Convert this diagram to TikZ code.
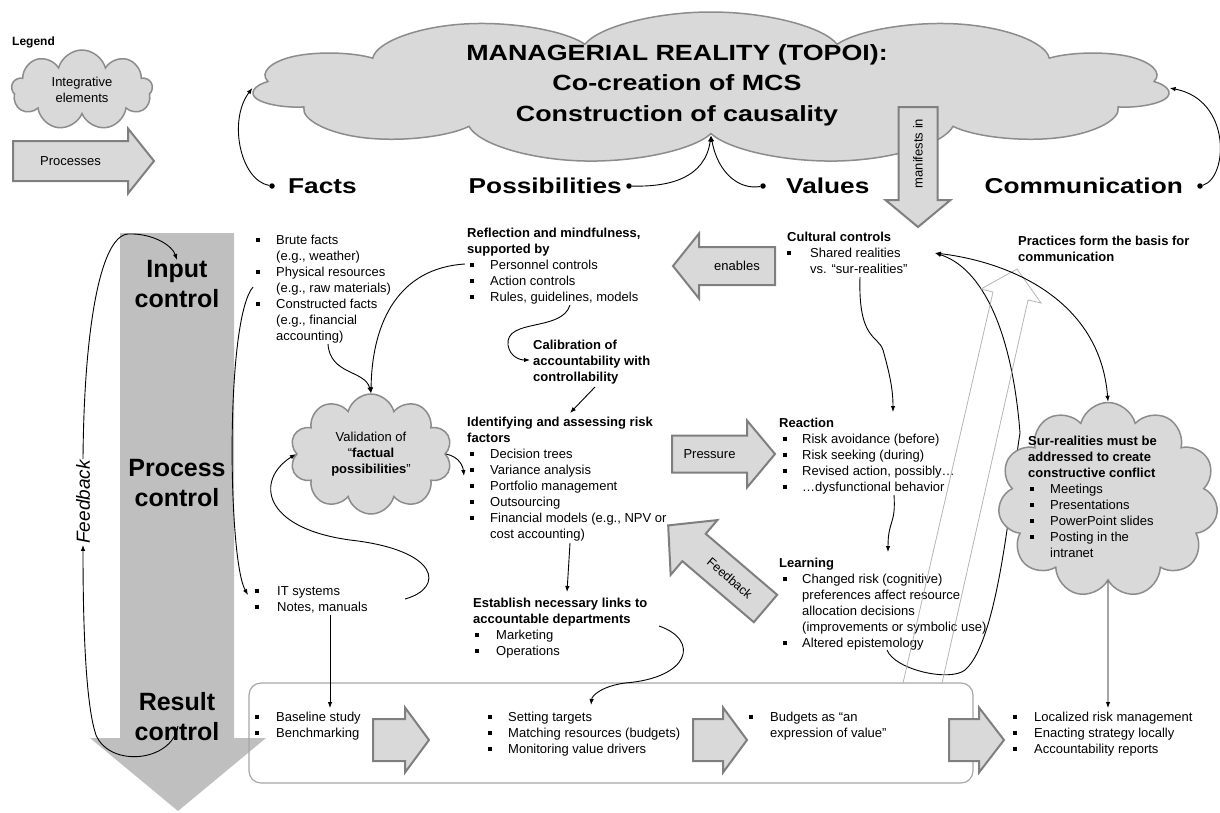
\documentclass[tikz,border=0pt]{standalone}
\usepackage{fontspec}
\setmainfont{Liberation Sans}
\newfontfamily\widefont{Liberation Sans}[FakeStretch=1.22]
\usetikzlibrary{shapes.symbols,arrows.meta,positioning}

\definecolor{cloudfill}{HTML}{D9D9D9}
\definecolor{cloudline}{HTML}{8C8C8C}
\definecolor{barfill}{HTML}{BFBFBF}
\definecolor{arrowline}{HTML}{7F7F7F}
\definecolor{boxline}{HTML}{A6A6A6}
\definecolor{ghost}{HTML}{B4B4B4}

% small square bullet and bullet lists
\newcommand{\sq}{\rule[3pt]{3.6pt}{3.6pt}}
\newcommand{\itm}[1][0pt]{\hspace*{#1}\sq}
\newcommand{\hd}[1]{\multicolumn{2}{@{}l@{}}{\bfseries #1}}
\newcommand{\blist}[2]{\begin{tabular}{@{}p{#1}@{}l@{}}#2\end{tabular}}

% fat block arrow: name, tail, angle, length, body width, head width, head length
\newcommand{\fatarrow}[7]{%
  \begin{scope}[shift={#2}, rotate=#3]
    \draw[procarrow] (0,{-#5/2}) -- ({#4-#7},{-#5/2}) -- ({#4-#7},{-#6/2}) -- (#4,0)
      -- ({#4-#7},{#6/2}) -- ({#4-#7},{#5/2}) -- (0,{#5/2}) -- cycle;
    \coordinate (#1) at ({(#4-#7)/2},0);
  \end{scope}}

\begin{document}
\begin{tikzpicture}[x=1pt, y=-1pt,
  txt/.style={anchor=north west, inner sep=0pt, font=\fontsize{13}{16}\selectfont},
  big/.style={anchor=north, align=center, inner sep=0pt, font=\bfseries\fontsize{25}{30}\selectfont},
  head/.style={inner sep=0pt, font=\widefont\bfseries\fontsize{21.5}{24}\selectfont},
  idea/.style={cloud, cloud ignores aspect, draw=cloudline, fill=cloudfill, line width=1.5pt, inner sep=0pt},
  procarrow/.style={fill=cloudfill, draw=arrowline, line width=2pt},
  dot/.style={circle, fill, inner sep=0pt, minimum size=5.5pt},
  link/.style={-{Latex[length=6pt,width=4.5pt]}, line width=0.9pt},
  dlink/.style={{Latex[length=6pt,width=4.5pt]}-{Latex[length=6pt,width=4.5pt]}, line width=0.9pt},
  ]
\useasboundingbox (0,0) rectangle (1220,812);

% legend
\node[anchor=west, inner sep=0pt, font=\bfseries\fontsize{12}{14}\selectfont] (legend) at (12,42) {Legend};
\node[idea, cloud puffs=9, minimum width=141pt, minimum height=80pt, align=center,
  font=\fontsize{13}{16}\selectfont] (legcloud) at (82,90) {Integrative\\elements};
\fatarrow{legarrow}{(13,161)}{0}{141}{40}{65}{26}
\node[font=\fontsize{13}{16}\selectfont] at (legarrow) {Processes};

% managerial reality (cloud stretched sideways)
\node[idea, cloud puffs=11, minimum width=306pt, minimum height=152pt, xscale=3] (reality) at (711,88) {};
\node[anchor=north, align=center, inner sep=0pt, font=\widefont\bfseries\fontsize{22}{30.5}\selectfont]
  (title) at (677,44) {MANAGERIAL REALITY (TOPOI):\\Co-creation of MCS\\Construction of causality};
\fatarrow{manifest}{(918,107)}{-90}{120}{39}{65}{27}
\node[rotate=90, font=\fontsize{13}{16}\selectfont] at (manifest) {manifests in};

% the four topoi
\node[head, anchor=base west] (facts) at (288,193) {Facts};
\node[head, anchor=base east] (poss) at (622,193) {Possibilities};
\node[head, anchor=base west] (values) at (786,193) {Values};
\node[head, anchor=base east] (comm) at (1183,193) {Communication};
\node[dot] (factsdot) at (272,186) {};
\node[dot] (possdot) at (629,186) {};
\node[dot] (valuesdot) at (763,186) {};
\node[dot] (commdot) at (1200,186) {};
\draw[link] (factsdot) .. controls (240,180) and (228,120) .. (reality.west);
\draw[link] (possdot) .. controls (670,187) and (705,178) .. (reality.south);
\draw[link] (valuesdot) .. controls (740,190) and (718,174) .. (reality.south);
\draw[link] (commdot) .. controls (1228,178) and (1232,100) .. (reality.east);

% control stages
\fill[barfill] (120,233) -- (234,233) -- (234,738) -- (266,738) -- (178,811) -- (90,738) -- (120,738) -- cycle;
\node[big] (inctrl) at (177,260) {Input\\control};
\node[big] (procctrl) at (177,459) {Process\\control};
\node[big] (resctrl) at (177,692) {Result\\control};

\node[rotate=90, inner sep=1pt, font=\itshape\fontsize{19}{22}\selectfont] (fbleft) at (83,502) {Feedback};
\coordinate (resultcurl) at (178,726);
\draw[link] (resultcurl) .. controls (172,762) and (110,768) .. (96,735)
  .. controls (84,700) and (83,600) .. (fbleft.west);
\draw[link] (fbleft.east) .. controls (84,330) and (100,236) .. (128,234)
  .. controls (152,233) and (172,245) .. (inctrl.north);

% facts column
\node[txt] (factlist) at (256,233.5) {\blist{20pt}{\sq & Brute facts\\ & (e.g., weather)\\
  \sq & Physical resources\\ & (e.g., raw materials)\\ \sq & Constructed facts\\
  & (e.g., financial\\ & accounting)}};
\node[txt] (itlist) at (255,584.5) {\blist{22pt}{\sq & IT systems\\ \sq & Notes, manuals}};
\node[idea, cloud puffs=10, minimum width=162pt, minimum height=120pt, align=center,
  font=\fontsize{13}{16}\selectfont] (valid) at (371,454)
  {Validation of\\“\textbf{factual}\\\textbf{possibilities}”};

% possibilities column
\node[txt] (reflect) at (467,226.5) {\blist{23pt}{\hd{Reflection and mindfulness,}\\ \hd{supported by}\\
  \itm[3pt] & Personnel controls\\ \itm[3pt] & Action controls\\ \itm[3pt] & Rules, guidelines, models}};
\node[txt] (calib) at (533,338.5) {\blist{0pt}{\hd{Calibration of}\\ \hd{accountability with}\\ \hd{controllability}}};
\node[txt] (identify) at (467,415.5) {\blist{23pt}{\hd{Identifying and assessing risk}\\ \hd{factors}\\
  \itm[3pt] & Decision trees\\ \itm[3pt] & Variance analysis\\ \itm[3pt] & Portfolio management\\
  \itm[3pt] & Outsourcing\\ \itm[3pt] & Financial models (e.g., NPV or\\ & cost accounting)}};
\node[txt] (establish) at (473,596.5) {\blist{23pt}{\hd{Establish necessary links to}\\ \hd{accountable departments}\\
  \itm[2pt] & Marketing\\ \itm[2pt] & Operations}};

% values column
\node[txt] (cultural) at (787,230.5) {\blist{23pt}{\hd{Cultural controls}\\ \sq & Shared realities\\ & vs. “sur-realities”}};
\node[txt] (reaction) at (779,416.5) {\blist{23pt}{\hd{Reaction}\\
  \itm[4pt] & Risk avoidance (before)\\ \itm[4pt] & Risk seeking (during)\\
  \itm[4pt] & Revised action, possibly…\\ \itm[4pt] & …dysfunctional behavior}};
\node[txt] (learning) at (779,556.5) {\blist{23pt}{\hd{Learning}\\
  \itm[4pt] & Changed risk (cognitive)\\ & preferences affect resource\\ & allocation decisions\\
  & (improvements or symbolic use)\\ \itm[4pt] & Altered epistemology}};

% communication column
\node[txt] (practices) at (1018,234.5) {\blist{0pt}{\hd{Practices form the basis for}\\ \hd{communication}}};

% loop from learning back to the cultural controls (runs behind the cloud)
\coordinate (learnout) at (887,650);
\coordinate (sharedin) at (935,253);
\draw[link] (learnout) .. controls (895,670) and (950,682) .. (965,670)
  .. controls (1000,640) and (1012,480) .. (1020,433)
  .. controls (1012,330) and (982,268) .. (sharedin);

\node[idea, cloud puffs=11, minimum width=220pt, minimum height=195pt] (surcloud) at (1108,500) {};
\node[txt] (surreal) at (1028,434.5) {\blist{22pt}{\hd{Sur-realities must be}\\ \hd{addressed to create}\\
  \hd{constructive conflict}\\ \itm[2pt] & Meetings\\ \itm[2pt] & Presentations\\
  \itm[2pt] & PowerPoint slides\\ \itm[2pt] & Posting in the\\ & intranet}};

% arrows between the columns
\fatarrow{enables}{(775,266)}{180}{102}{38}{65}{26}
\node[font=\fontsize{13}{16}\selectfont] at (enables) {enables};
\fatarrow{pressure}{(672,454)}{0}{103}{37}{67}{28}
\node[font=\fontsize{13}{16}\selectfont] at (pressure) {Pressure};
\fatarrow{fbarrow}{(765.5,608.5)}{139.5}{128}{36}{72}{34}
\node[rotate=-40.5, inner sep=0pt, font=\fontsize{12.5}{15}\selectfont] at (fbarrow) {Feedback};

% result control box
\draw[boxline, line width=1.2pt, rounded corners=12pt] (249,683) rectangle (973,783);
\node[txt] (baseline) at (255,710.5) {\blist{21pt}{\sq & Baseline study\\ \sq & Benchmarking}};
\node[txt] (targets) at (488,710.5) {\blist{20pt}{\sq & Setting targets\\ \sq & Matching resources (budgets)\\ \sq & Monitoring value drivers}};
\node[txt] (budgets) at (749,710.5) {\blist{21pt}{\sq & Budgets as “an\\ & expression of value”}};
\node[txt] (localized) at (1013,710.5) {\blist{21pt}{\sq & Localized risk management\\
  \sq & Enacting strategy locally\\ \sq & Accountability reports}};
\fatarrow{step1}{(373,740)}{0}{56}{42}{65}{24}
\fatarrow{step2}{(693,740)}{0}{54}{42}{65}{24}
\fatarrow{step3}{(949,740)}{0}{55}{42}{65}{25}

% outline arrow rising out of the box
\draw[ghost, line width=0.8pt] (903,683) -- (993,292) -- (981,289) -- (1017,269) -- (1041,303) -- (1028,300) -- (942,683);

% connectors
\coordinate (factsout) at (328,344);
\coordinate (personnel) at (465,264);
\coordinate (physical) at (253,287);
\coordinate (itin) at (248,595);
\coordinate (notesout) at (405,599);
\coordinate (variance) at (464,476);
\coordinate (rulesout) at (570,305);
\coordinate (calibin) at (530,360);
\coordinate (calibout) at (595,387);
\coordinate (identin) at (570,413);
\coordinate (finout) at (570,543);
\coordinate (estin) at (567,592);
\coordinate (estout) at (659,626);
\coordinate (targetin) at (591,705);
\coordinate (notesdown) at (330,615);
\coordinate (baselinein) at (330,708);
\coordinate (culturalout) at (860,277);
\coordinate (reactin) at (893,412);
\coordinate (reactout) at (894,495);
\coordinate (learnin) at (888,552);
\coordinate (localin) at (1108,708);

\draw[link] (factsout) .. controls (330,375) and (365,370) .. (valid.north);
\draw[link] (personnel) .. controls (400,268) and (372,320) .. (valid.north);
\draw[link] (physical) .. controls (225,320) and (228,560) .. (itin);
\draw[link] (notesout) .. controls (445,588) and (440,550) .. (350,540)
  .. controls (262,528) and (255,480) .. (valid.west);
\draw[link] (valid.east) .. controls (460,457) and (463,467) .. (variance);
\draw[link] (rulesout) .. controls (562,332) and (505,318) .. (508,345)
  .. controls (510,357) and (520,360) .. (calibin);
\draw[link] (calibout) -- (identin);
\draw[link] (finout) -- (estin);
\draw[link] (estout) .. controls (700,640) and (690,678) .. (625,683)
  .. controls (603,686) and (592,695) .. (targetin);
\draw[link] (notesdown) -- (baselinein);
\draw[link] (culturalout) .. controls (858,340) and (878,335) .. (883,350)
  .. controls (890,375) and (893,390) .. (reactin);
\draw[link] (reactout) .. controls (896,525) and (888,520) .. (learnin);
\draw[dlink] (sharedin) .. controls (1010,262) and (1100,300) .. (surcloud.north);
\draw[link] (surcloud.south) -- (localin);

\end{tikzpicture}
\end{document}
